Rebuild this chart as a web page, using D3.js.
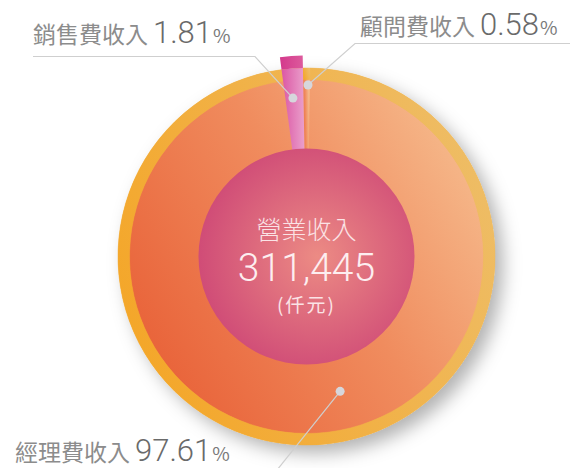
<!DOCTYPE html>
<html>
<head>
<meta charset="utf-8">
<script src="https://cdn.jsdelivr.net/npm/d3@7"></script>
<style>
body { margin: 0; background: #fff; }
text { font-family: "Noto Sans CJK TC", "Noto Sans", sans-serif; }
.num { font-family: Roboto, "Noto Sans", sans-serif; font-weight: 300; }
</style>
</head>
<body>
<div id="chart"></div>
<script>
// data
var categories = ["經理費收入", "銷售費收入", "顧問費收入"];
var shares = [97.61, 1.81, 0.58];
var totalLabel = "營業收入";
var totalValue = "311,445";
var totalUnit = "(仟元)";

var width = 573, height = 468;
var cx = 306.5, cy = 256.5;
var rPie = 177, rRing = 188.5, rCap = 201, rCenter = 108;
var deg = Math.PI / 180;

var svg = d3.select("#chart").append("svg")
  .attr("width", width)
  .attr("height", height);

var defs = svg.append("defs");

// gradients
var g1 = defs.append("linearGradient").attr("id", "mgmt")
  .attr("x1", "0%").attr("y1", "80%").attr("x2", "100%").attr("y2", "20%");
g1.append("stop").attr("offset", "0%").attr("stop-color", "#e85f36");
g1.append("stop").attr("offset", "55%").attr("stop-color", "#f08c5e");
g1.append("stop").attr("offset", "100%").attr("stop-color", "#f6bc8e");

var g2 = defs.append("linearGradient").attr("id", "ring")
  .attr("x1", "0%").attr("y1", "70%").attr("x2", "100%").attr("y2", "30%");
g2.append("stop").attr("offset", "0%").attr("stop-color", "#f4a628");
g2.append("stop").attr("offset", "100%").attr("stop-color", "#eebd66");

var g3 = defs.append("linearGradient").attr("id", "sales")
  .attr("gradientUnits", "userSpaceOnUse")
  .attr("x1", -24).attr("y1", 0).attr("x2", 0).attr("y2", 0);
g3.append("stop").attr("offset", "0%").attr("stop-color", "#dc5aa6");
g3.append("stop").attr("offset", "100%").attr("stop-color", "#eba6cf");

var g4 = defs.append("linearGradient").attr("id", "cap")
  .attr("gradientUnits", "userSpaceOnUse")
  .attr("x1", -28).attr("y1", 0).attr("x2", 0).attr("y2", 0);
g4.append("stop").attr("offset", "0%").attr("stop-color", "#d3378a");
g4.append("stop").attr("offset", "100%").attr("stop-color", "#de5f9f");

var g5 = defs.append("radialGradient").attr("id", "center")
  .attr("cx", "55%").attr("cy", "50%").attr("r", "55%");
g5.append("stop").attr("offset", "0%").attr("stop-color", "#ec8b84");
g5.append("stop").attr("offset", "100%").attr("stop-color", "#d04c77");

var shadow = defs.append("filter").attr("id", "shadow")
  .attr("x", "-30%").attr("y", "-30%").attr("width", "160%").attr("height", "160%");
shadow.append("feDropShadow").attr("dx", 8).attr("dy", 8)
  .attr("stdDeviation", 9).attr("flood-color", "#000").attr("flood-opacity", 0.3);

var pie = d3.pie().sort(null)
  .startAngle(1 * deg).endAngle(361 * deg);
var arcs = pie(shares);

var g = svg.append("g").attr("transform", "translate(" + cx + "," + cy + ")");

// shadow disc
g.append("circle").attr("r", rRing).attr("fill", "#eeb24a").attr("filter", "url(#shadow)");

var pieArc = d3.arc().innerRadius(0).outerRadius(rPie);
var ringArc = d3.arc().innerRadius(rPie).outerRadius(rRing);

// management + consulting share the orange body
[0, 2].forEach(function(i) {
  g.append("path").attr("d", pieArc(arcs[i])).attr("fill", "url(#mgmt)")
    .attr("stroke", "url(#mgmt)").attr("stroke-width", 0.5);
  g.append("path").attr("d", ringArc(arcs[i])).attr("fill", "url(#ring)")
    .attr("stroke", "url(#ring)").attr("stroke-width", 0.5);
});

// sales wedge sticks out
var salesArc = d3.arc().innerRadius(rCenter - 5).outerRadius(rRing);
var capArc = d3.arc().innerRadius(rRing).outerRadius(rCap);
g.append("path").attr("d", salesArc(arcs[1])).attr("fill", "url(#sales)");
g.append("path").attr("d", capArc(arcs[1])).attr("fill", "url(#cap)");

// center disc
g.append("circle").attr("r", rCenter).attr("fill", "url(#center)");

g.append("text").attr("text-anchor", "middle").attr("y", 239 - cy)
  .attr("fill", "#fbe3e6").attr("font-size", 25).attr("font-weight", 300)
  .text(totalLabel);
g.append("text").attr("class", "num").attr("text-anchor", "middle").attr("y", 281 - cy)
  .attr("fill", "#fdeef0").attr("font-size", 39)
  .text(totalValue);
g.append("text").attr("text-anchor", "middle").attr("y", 312 - cy)
  .attr("fill", "#fbe3e6").attr("font-size", 19).attr("letter-spacing", 2)
  .text(totalUnit);

// callouts: dot angle/radius, elbow, label
var callouts = [
  { i: 0, angle: 166, r: 139, path: [[277, 470]], tx: 15, ty: 461 },
  { i: 1, angle: -4.9, r: 159, path: [[255, 56.5], [33, 56.5]], tx: 33, ty: 43 },
  { i: 2, angle: 0.5, r: 171.5, path: [[355, 43.5], [570, 43.5]], tx: 360, ty: 35 }
];

callouts.forEach(function(c) {
  var a = c.angle * deg;
  var px = cx + c.r * Math.sin(a), py = cy - c.r * Math.cos(a);
  var pts = [[px, py]].concat(c.path);
  svg.append("path").attr("d", d3.line()(pts))
    .attr("fill", "none").attr("stroke", "#cfcfcf").attr("stroke-width", 1.2);
  svg.append("circle").attr("cx", px).attr("cy", py).attr("r", 4.5)
    .attr("fill", "#d6d6dc");

  var t = svg.append("text").attr("x", c.tx).attr("y", c.ty);
  t.append("tspan").attr("fill", "#8c8c8c").attr("font-size", 23).text(categories[c.i]);
  t.append("tspan").attr("class", "num").attr("fill", "#6a6a6a").attr("font-size", 31).attr("dx", 5)
    .text(d3.format(".2f")(shares[c.i]));
  t.append("tspan").attr("fill", "#7a7a7a").attr("font-size", 19).attr("dx", 1).text("%");
});
</script>
</body>
</html>
